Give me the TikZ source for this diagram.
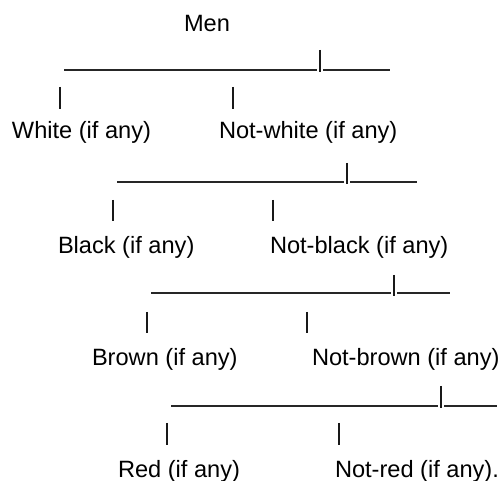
\documentclass[tikz,border=0pt]{standalone}
\usepackage{fontspec}
\setmainfont{Liberation Sans}
\begin{document}
\begin{tikzpicture}[x=1pt,y=-1pt,
  lbl/.style={anchor=base west,inner sep=0pt,outer sep=0pt,font=\fontsize{23.6}{27}\selectfont},
  uline/.style={line width=1.3pt,black!85},
  pipe/.style={line width=1.9pt,black!90}]
\useasboundingbox (0,0) rectangle (504,481);
% texts
\node[lbl] (men) at (184,32) {Men};
\node[lbl] (white) at (12,139) {White (if any)};
\node[lbl] (notwhite) at (219,139) {Not-white (if any)};
\node[lbl] (black) at (58,254) {Black (if any)};
\node[lbl] (notblack) at (270,254) {Not-black (if any)};
\node[lbl] (brown) at (92,366) {Brown (if any)};
\node[lbl] (notbrown) at (312,366) {Not-brown (if any)};
\node[lbl] (red) at (118,477) {Red (if any)};
\node[lbl] (notred) at (335,477) {Not-red (if any).};
% row A
\draw[uline] (64,70) -- (317,70);
\draw[pipe] (320,50) -- (320,72);
\draw[uline] (323,70) -- (390,70);
\draw[pipe] (60,87) -- (60,109);
\draw[pipe] (233,87) -- (233,109);
% row B
\draw[uline] (117,182) -- (344,182);
\draw[pipe] (347,163) -- (347,184);
\draw[uline] (350,182) -- (417,182);
\draw[pipe] (113,200) -- (113,221);
\draw[pipe] (273,200) -- (273,221);
% row C
\draw[uline] (151,293) -- (391,293);
\draw[pipe] (394,275) -- (394,296);
\draw[uline] (397,293) -- (450,293);
\draw[pipe] (147,312) -- (147,333);
\draw[pipe] (307,312) -- (307,333);
% row D
\draw[uline] (171,406) -- (438,406);
\draw[pipe] (441,386) -- (441,408);
\draw[uline] (444,406) -- (497,406);
\draw[pipe] (167,423) -- (167,445);
\draw[pipe] (339,423) -- (339,445);
\end{tikzpicture}
\end{document}
